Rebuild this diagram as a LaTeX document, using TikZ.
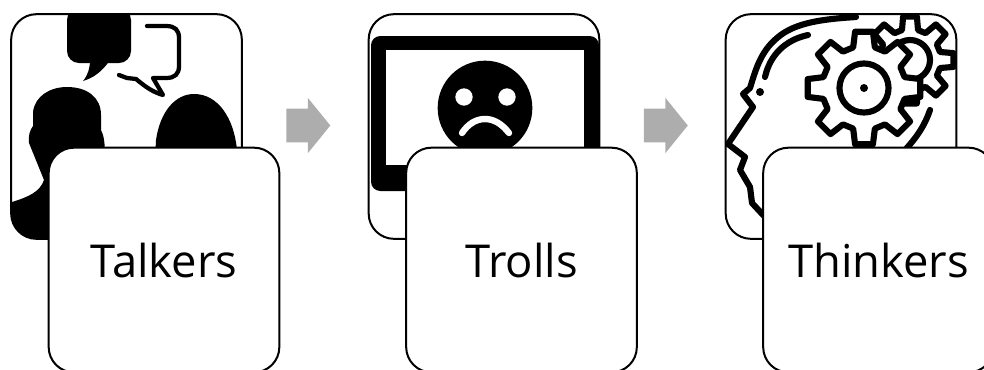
\documentclass[tikz,border=0pt]{standalone}
\usepackage{fontspec}
\setmainfont{Open Sans}
\usetikzlibrary{shapes.arrows}
\newcommand{\gearteeth}[2]{
    \draw[gear_line, fill=white] (-15:#1)
    \foreach \a in {0,45,...,315} {
        -- (\a-15:#1) -- (\a-9:#2) -- (\a+9:#2) -- (\a+15:#1)
    } -- cycle;
}
\begin{document}
\begin{tikzpicture}[
    x=0.75pt, y=-0.75pt,
    back_card/.style={rectangle, draw, line width=1.5pt, rounded corners=19pt, minimum width=173pt, minimum height=168.5pt},
    front_card/.style={rectangle, draw, fill=white, line width=1.5pt, rounded corners=19pt, minimum width=173pt, minimum height=168.5pt, font=\fontsize{34}{41}\selectfont},
    step_arrow/.style={single arrow, fill=black!32, minimum width=41pt, minimum height=33pt, single arrow head extend=8pt, single arrow tip angle=102, inner xsep=0pt, inner ysep=12.5pt, anchor=tail},
    icon_line/.style={line width=4.6pt, line cap=round, line join=round},
    gear_line/.style={line width=4.6pt, line join=round}
]
    \useasboundingbox (0,0) rectangle (984,369);

    % talkers icon
    \begin{scope}
        \clip[rounded corners=19pt] (11,14) rectangle (242,239);
        \fill[rounded corners=9pt] (67,8) rectangle (131,63);
        \fill (90,60) .. controls (90,68) and (88,75) .. (83,81) .. controls (93,78) and (102,72) .. (110,60) -- cycle;
        \draw[line width=3.2pt, line cap=round, line join=round] (147,26) -- (166,26) .. controls (175,26) and (179,30) .. (179,38) -- (179,66) .. controls (179,74) and (175,78) .. (166,78) -- (153,78) -- (163,95) .. controls (153,92) and (147,88) .. (136,79) -- (127,78) -- (119,75);
        \fill (12,202) .. controls (28,197) and (40,192) .. (44,180) -- (29,143) .. controls (28,136) and (30,130) .. (33,126) -- (33,112) .. controls (35,96) and (50,87) .. (67,87) .. controls (88,87) and (101,98) .. (101,115) -- (101,130) .. controls (104,136) and (105,142) .. (105,160) -- (105,245) -- (5,245) -- (5,202) -- cycle;
        \fill (155,160) -- (156,140) .. controls (160,112) and (175,94) .. (194,94) .. controls (218,94) and (234,118) .. (237,150) -- (237,160) -- cycle;
    \end{scope}

    % trolls icon
    \fill[rounded corners=7pt] (371,36) rectangle (599,191);
    \fill[white] (386,50) rectangle (584,165);
    \fill (485,108) circle (35.5pt);
    \fill[white] (464,97) circle (6.5pt);
    \fill[white] (507,97) circle (6.5pt);
    \draw[white, line width=4.8pt, line cap=round] (462,133) .. controls (468,124) and (476,119) .. (485,119) .. controls (494,119) and (502,124) .. (509,133);

    % thinkers icon
    \begin{scope}
        \clip[rounded corners=19pt] (725,14) rectangle (957,239);
        \draw[icon_line] (856,17) .. controls (825,19) and (795,22) .. (777,38) .. controls (760,52) and (755,72) .. (750,88) -- (743,94) -- (753,107) -- (728,144) -- (745,157) -- (740,170) -- (750,187) -- (752,203) -- (765,217);
        \draw[icon_line] (808,35) .. controls (785,40) and (770,55) .. (765,77);
        \fill (760,92) circle (3pt);
        \begin{scope}[shift={(910,60)}]
            \gearteeth{31}{44}
            \draw[gear_line] (0,0) circle (15pt);
        \end{scope}
        \begin{scope}[shift={(864,88)}]
            \gearteeth{42}{57}
            \draw[gear_line] (0,0) circle (18.4pt);
            \fill (0,0) circle (3pt);
        \end{scope}
        \draw[icon_line] (930,110) .. controls (925,125) and (917,137) .. (905,150);
    \end{scope}

    \node[back_card] (talkers_back) at (126.5,126.5) {};
    \node[back_card] (trolls_back) at (484,126.5) {};
    \node[back_card] (thinkers_back) at (841,126.5) {};

    \node[front_card] (talkers) at (164,260) {Talkers};
    \node[front_card] (trolls) at (521.5,260) {Trolls};
    \node[front_card] (thinkers) at (878.5,260) {Thinkers};

    \node[step_arrow] (first_step) at (286,125.5) {};
    \node[step_arrow] (second_step) at (643.5,125.5) {};
\end{tikzpicture}
\end{document}
